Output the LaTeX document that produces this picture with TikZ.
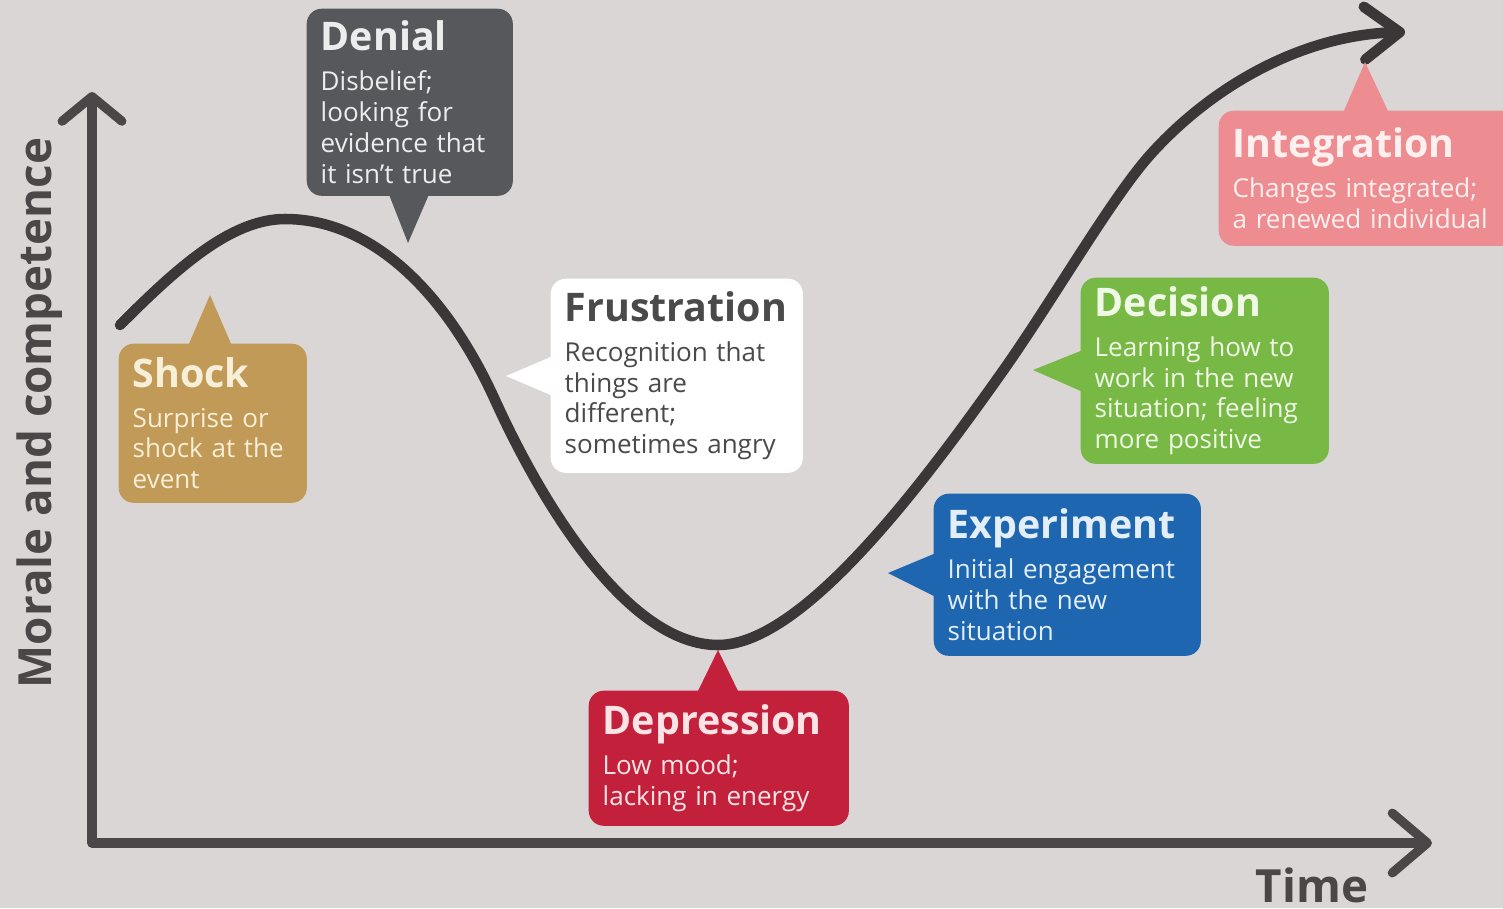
\documentclass[tikz,border=0pt]{standalone}
\usepackage{fontspec}
\setmainfont{Open Sans}
\usetikzlibrary{arrows.meta}
\definecolor{bgc}{HTML}{DAD6D6}
\definecolor{axisc}{HTML}{4B4647}
\definecolor{curvec}{HTML}{3B3738}
\definecolor{shockc}{HTML}{C09A56}
\definecolor{shockt}{HTML}{F8EFD8}
\definecolor{denialc}{HTML}{56585B}
\definecolor{denialt}{HTML}{EDEDED}
\definecolor{frustc}{HTML}{FFFFFF}
\definecolor{frustt}{HTML}{4A4A4A}
\definecolor{deprc}{HTML}{C3213B}
\definecolor{deprt}{HTML}{FBE3E6}
\definecolor{expc}{HTML}{1E66B0}
\definecolor{expt}{HTML}{E3EEF9}
\definecolor{decc}{HTML}{78B946}
\definecolor{dect}{HTML}{F0F8E6}
\definecolor{integc}{HTML}{EE8D91}
\definecolor{integt}{HTML}{FFF0F0}
\newcommand\bodyfnt{\fontsize{7.4}{8.8}\selectfont\hyphenpenalty=10000\relax}
\newcommand\ttlfnt[1]{{\fontsize{11.2}{13}\selectfont\bfseries #1}}
\begin{document}
\begin{tikzpicture}[x=0.01cm,y=-0.01cm,
  callout/.style={rectangle, rounded corners=0.15cm, inner xsep=0.14cm, inner ysep=0pt,
    anchor=north west, align=left, font=\bodyfnt},
  axisline/.style={draw=axisc, line width=2.6pt, line join=round, line cap=round},
  curveline/.style={draw=curvec, line width=3pt, line cap=round, line join=round},
  axislabel/.style={font=\fontsize{13}{15}\selectfont\bfseries, text=axisc, inner sep=0pt}
]
\useasboundingbox (0,0) rectangle (1503,908);
\fill[bgc] (0,0) rectangle (1503,908);

% axes
\coordinate (ytop) at (92,92);
\coordinate (origin) at (92,843);
\coordinate (xend) at (1432,843);
\draw[axisline, {Straight Barb[length=7pt,width=17pt,round]}-{Straight Barb[length=10pt,width=17pt,round]}] (ytop) -- (origin) -- (xend);
\node[axislabel] (timelbl) at (1312,885) {Time};
\node[axislabel, rotate=90] (ylbl) at (40,413) {Morale and competence};

% curve
\coordinate (cstart) at (120,325);
\coordinate (cpeak) at (285,219);
\coordinate (cinfl) at (495,400);
\coordinate (cbottom) at (718,645);
\coordinate (crise) at (1000,375);
\coordinate (cupper) at (1150,155);
\coordinate (cend) at (1405,32);
\draw[curveline, -{Straight Barb[length=10pt,width=15pt,round]}]
  (cstart) .. controls (175,270) and (230,219) .. (cpeak)
  .. controls (370,219) and (445,290) .. (cinfl)
  .. controls (545,510) and (630,645) .. (cbottom)
  .. controls (800,645) and (915,495) .. (crise)
  .. controls (1050,305) and (1110,200) .. (cupper)
  .. controls (1210,88) and (1300,35) .. (cend);

% callouts
\node[callout, fill=shockc, text=shockt, text width=1.60cm, minimum height=1.59cm] (shock) at (118,343)
 {\ttlfnt{Shock}\\[2.5pt]Surprise or\\shock at the\\event};
\coordinate (shocktip) at (210,295);
\fill[shockc] (188,346) -- (shocktip) -- (232,346) -- cycle;

\node[callout, fill=denialc, text=denialt, text width=1.78cm, minimum height=1.87cm] (denial) at (306,8)
 {\ttlfnt{Denial}\\[2.5pt]Disbelief;\\looking for\\evidence that\\it isn’t true};
\coordinate (denialtip) at (408,243);
\fill[denialc] (388,192) -- (denialtip) -- (430,192) -- cycle;

\node[callout, fill=frustc, text=frustt, text width=2.24cm, minimum height=1.94cm] (frust) at (550,278)
 {\ttlfnt{Frustration}\\[2.5pt]Recognition that\\things are\\different;\\sometimes angry};
\coordinate (frusttip) at (506,376);
\fill[frustc] (553,356) -- (frusttip) -- (553,396) -- cycle;

\node[callout, fill=deprc, text=deprt, text width=2.32cm, minimum height=1.35cm] (depr) at (588,690)
 {\ttlfnt{Depression}\\[2.5pt]Low mood;\\lacking in energy};
\coordinate (deprtip) at (718,650);
\fill[deprc] (697,693) -- (deprtip) -- (739,693) -- cycle;

\node[callout, fill=expc, text=expt, text width=2.39cm, minimum height=1.62cm] (exper) at (933,493)
 {\ttlfnt{Experiment}\\[2.5pt]Initial engagement\\with the new\\situation};
\coordinate (expertip) at (888,573);
\fill[expc] (936,553) -- (expertip) -- (936,597) -- cycle;

\node[callout, fill=decc, text=dect, text width=2.20cm, minimum height=1.86cm] (decis) at (1080,277)
 {\ttlfnt{Decision}\\[2.5pt]Learning how to\\work in the new\\situation; feeling\\more positive};
\coordinate (decistip) at (1033,370);
\fill[decc] (1083,350) -- (decistip) -- (1083,392) -- cycle;

\node[callout, fill=integc, text=integt, text width=2.72cm, minimum height=1.35cm] (integ) at (1218,110)
 {\ttlfnt{Integration}\\[2.5pt]Changes integrated;\\a renewed individual};
\coordinate (integtip) at (1365,62);
\fill[integc] (1343,113) -- (integtip) -- (1389,113) -- cycle;
\end{tikzpicture}
\end{document}
